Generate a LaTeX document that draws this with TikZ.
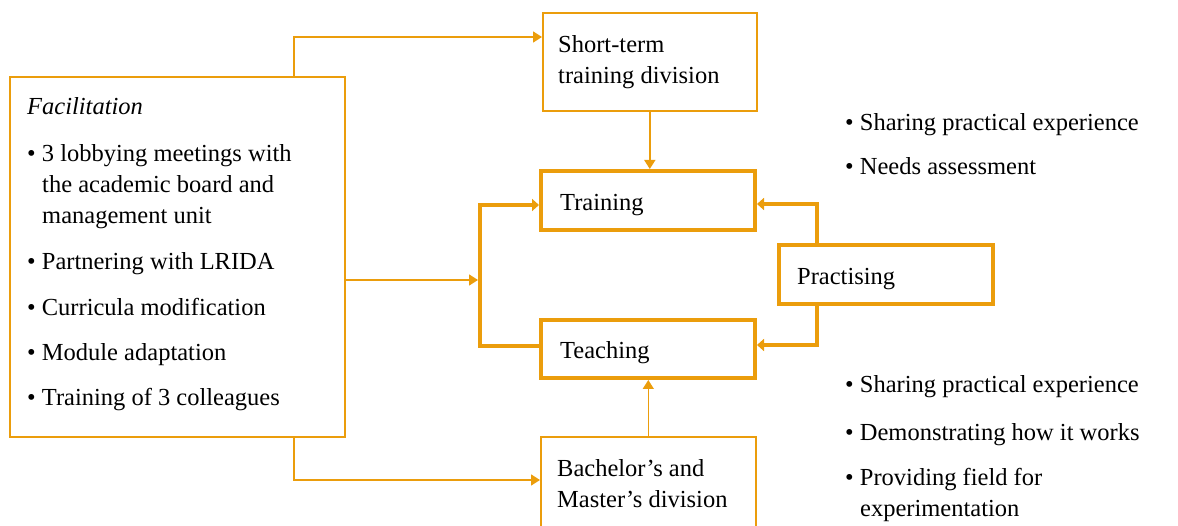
\documentclass[tikz,border=0pt]{standalone}
\usepackage{fontspec}
\setmainfont{Liberation Serif}
\usetikzlibrary{arrows.meta,calc}
\definecolor{org}{RGB}{235,157,12}
\tikzset{
  x=1pt,y=-1pt,
  thinbox/.style={draw=org, line width=1.6pt, anchor=north west, inner sep=0pt},
  thickbox/.style={draw=org, line width=4pt, anchor=north west, inner sep=0pt},
  thinconn/.style={draw=org, line width=1.6pt, -{Triangle[length=9pt,width=11pt]}},
  thickconn/.style={draw=org, line width=4pt, -{Triangle[length=7pt,width=12pt]}},
  txt/.style={anchor=base west, inner sep=0pt, font=\fontsize{24.5}{31}\selectfont},
}
\begin{document}
\begin{tikzpicture}
\useasboundingbox (0,0) rectangle (1178,526);
\clip (0,0) rectangle (1178,526);
% boxes
\node[thinbox, minimum width=335pt, minimum height=360pt] (fac) at (9,76) {};
\node[thinbox, minimum width=214pt, minimum height=98pt] (short) at (542,12) {};
\node[thinbox, minimum width=215pt, minimum height=130pt] (bach) at (540,436) {};
\node[thickbox, minimum width=214pt, minimum height=59pt] (train) at (539,169) {};
\node[thickbox, minimum width=214pt, minimum height=58pt] (teach) at (539,318) {};
\node[thickbox, minimum width=214pt, minimum height=59pt] (prac) at (777,243) {};
% box texts
\node[txt] (tshort1) at (558,53) {Short-term};
\node[txt] (tshort2) at (558,84) {training division};
\node[txt] (ttrain) at (560,211) {Training};
\node[txt] (tteach) at (560,359) {Teaching};
\node[txt] (tprac) at (797,285) {Practising};
\node[txt] (tbach1) at (557,476) {Bachelor’s and};
\node[txt] (tbach2) at (557,507) {Master’s division};
% facilitation texts
\node[txt] (f0) at (27,115) {\itshape Facilitation};
\node[txt] (f1) at (27,162) {\textbullet\ 3 lobbying meetings with};
\node[txt] (f1b) at (42,193) {the academic board and};
\node[txt] (f1c) at (42,224) {management unit};
\node[txt] (f2) at (27,270) {\textbullet\ Partnering with LRIDA};
\node[txt] (f3) at (27,316) {\textbullet\ Curricula modification};
\node[txt] (f4) at (27,361) {\textbullet\ Module adaptation};
\node[txt] (f5) at (27,406) {\textbullet\ Training of 3 colleagues};
% right bullets
\node[txt] (r1) at (845,131) {\textbullet\ Sharing practical experience};
\node[txt] (r2) at (845,175) {\textbullet\ Needs assessment};
\node[txt] (r3) at (845,393) {\textbullet\ Sharing practical experience};
\node[txt] (r4) at (845,440) {\textbullet\ Demonstrating how it works};
\node[txt] (r5) at (845,485) {\textbullet\ Providing field for};
\node[txt] (r5b) at (860,516) {experimentation};
% connectors
\coordinate (brkIn) at (478,280);
\coordinate (brkTop) at (480,205);
\draw[thinconn] ($(fac.north west)+(285,0)$) |- ($(short.north west)+(0,25)$);
\draw[thinconn] ($(fac.south west)+(285,0)$) |- ($(bach.north west)+(0,44)$);
\draw[thinconn] ($(fac.north east)+(0,204)$) -- (brkIn);
\draw[thinconn] (short.south) -- (short.south |- train.north);
\draw[thinconn] (bach.north) -- (bach.north |- teach.south);
\draw[thickconn] ($(teach.north west)+(0,28)$) -| (brkTop) -- ($(train.north west)+(0,36)$);
\draw[thickconn] ($(prac.north west)+(40,0)$) |- ($(train.north east)+(0,35)$);
\draw[thickconn] ($(prac.south west)+(40,0)$) |- ($(teach.north east)+(0,27)$);
\end{tikzpicture}
\end{document}
